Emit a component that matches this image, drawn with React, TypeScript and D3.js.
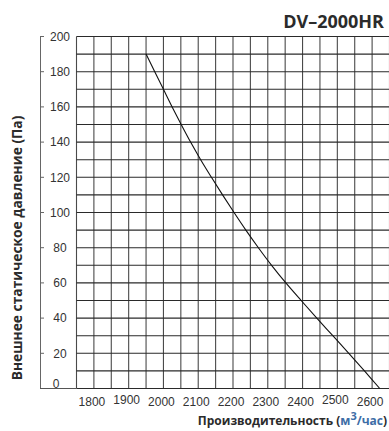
import React from "react";
import * as d3 from "d3";

const flowValues = [1950, 1975, 2000, 2025, 2051, 2078, 2107, 2138, 2170, 2203, 2237, 2273, 2311, 2352, 2396, 2441, 2487, 2533, 2578, 2622];
const pressureValues = [190, 180, 170, 160, 150, 140, 130, 120, 110, 100, 90, 80, 70, 60, 50, 40, 30, 20, 10, 0];
const xTickLabels = [1800, 1900, 2000, 2100, 2200, 2300, 2400, 2500, 2600];
const yTickLabels = [0, 20, 40, 60, 80, 100, 120, 140, 160, 180, 200];
const xGrid = d3.range(1750, 2651, 50);
const yGrid = d3.range(0, 201, 10);

const W = 389;
const H = 431;

export default function App() {
  const x = d3.scaleLinear().domain([1750, 2650]).range([76.5, 389.5]);
  const y = d3.scaleLinear().domain([0, 200]).range([388.5, 36.5]);
  const pts = flowValues.map((f, i) => [f, pressureValues[i]] as [number, number]);
  const line = d3
    .line<[number, number]>()
    .x((d) => x(d[0]))
    .y((d) => y(d[1]))
    .curve(d3.curveCatmullRom);
  const sorted = [...pts].sort((a, b) => a[0] - b[0]);

  return (
    <svg
      width={W}
      height={H}
      style={{ position: "absolute", left: 0, top: 0, background: "#fff" }}
    >
      {/* grid */}
      {xGrid.map((v) => (
        <line key={"vx" + v} x1={x(v)} x2={x(v)} y1={y(200)} y2={y(0)} stroke="#4a4a4a" strokeWidth={1.1} />
      ))}
      {yGrid.map((v) => (
        <line key={"hy" + v} x1={x(1750)} x2={x(2650)} y1={y(v)} y2={y(v)} stroke="#2a2a2a" strokeWidth={1.1} />
      ))}
      {/* left axis */}
      <line x1={40.5} x2={40.5} y1={y(200)} y2={y(0)} stroke="#666" strokeWidth={1} />
      <line x1={40} x2={x(1750)} y1={y(0)} y2={y(0)} stroke="#555" strokeWidth={1} />
      {yTickLabels.map((v) => (
        <g key={"yt" + v}>
          {v > 0 && <line x1={40} x2={44} y1={y(v)} y2={y(v)} stroke="#666" strokeWidth={1} />}
          <text
            x={v === 0 ? 56 : 60}
            y={v === 0 ? y(v) - 5 : y(v)}
            dy="0.35em"
            textAnchor="middle"
            fontFamily="Liberation Sans, Arial, sans-serif"
            fontSize={12}
            fill="#333"
          >
            {v}
          </text>
        </g>
      ))}
      {/* x tick labels */}
      {xTickLabels.map((v) => (
        <text
          key={"xt" + v}
          x={x(v) - 2}
          y={v === 1900 || v === 2500 ? 403.5 : 406}
          textAnchor="middle"
          fontFamily="Liberation Sans, Arial, sans-serif"
          fontSize={12}
          fill="#333"
        >
          {v}
        </text>
      ))}
      {/* curve */}
      <path d={line(sorted) || ""} fill="none" stroke="#111" strokeWidth={1.1} />
      {/* title */}
      <text
        x={384}
        y={28}
        textAnchor="end"
        fontFamily="Open Sans, Noto Sans, sans-serif"
        fontWeight="bold"
        fontSize={18}
        fill="#2b2b2b"
      >
        DV–2000HR
      </text>
      {/* x title */}
      <text
        x={387}
        y={424.5}
        textAnchor="end"
        fontFamily="Open Sans, Noto Sans, sans-serif"
        fontWeight="bold"
        fontSize={12}
        fill="#2b2b2b"
      >
        Производительность (
        <tspan fill="#3d6da6">м</tspan>
        <tspan fill="#3d6da6" dy={-5} fontSize={11}>3</tspan>
        <tspan fill="#3d6da6" dy={5}>/час</tspan>)
      </text>
      {/* y title */}
      <text
        transform="translate(21.5,248) rotate(-90)"
        textAnchor="middle"
        fontFamily="Open Sans, Noto Sans, sans-serif"
        fontWeight="bold"
        fontSize={13.8}
        fill="#2b2b2b"
      >
        Внешнее статическое давление (Па)
      </text>
    </svg>
  );
}
